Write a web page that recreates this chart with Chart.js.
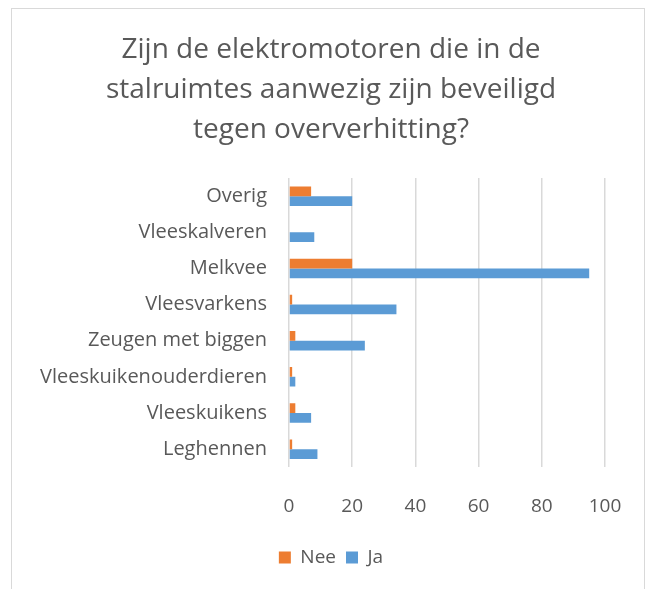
<!DOCTYPE html>
<html>
<head>
<meta charset="utf-8">
<script src="https://cdn.jsdelivr.net/npm/chart.js@4/dist/chart.umd.min.js"></script>
<style>
  html, body { margin: 0; padding: 0; background: #fff; }
  #kader { position: absolute; left: 11px; top: 8px; width: 632px; height: 600px; border: 1px solid #d9d9d9; }
  #wrap { position: absolute; left: 0; top: 0; width: 653px; height: 589px; }
</style>
</head>
<body>
<div id="kader"></div>
<div id="wrap"><canvas id="grafiek" width="653" height="589"></canvas></div>
<script>
// categorieen van boven naar onder
var categorieen = ["Overig", "Vleeskalveren", "Melkvee", "Vleesvarkens", "Zeugen met biggen", "Vleeskuikenouderdieren", "Vleeskuikens", "Leghennen"];
var nee = [7, 0, 20, 1, 2, 1, 2, 1];
var ja = [20, 8, 95, 34, 24, 2, 7, 9];
var titel = ["Zijn de elektromotoren die in de", "stalruimtes aanwezig zijn beveiligd", "tegen oververhitting?"];

var tekstKleur = "#595959";
var lettertype = "'Open Sans', Lato, sans-serif";

var ctx = document.getElementById("grafiek");
var grafiek = new Chart(ctx, {
    type: 'bar',
    data: {
        labels: categorieen,
        datasets: [
            { label: "Nee", data: nee, backgroundColor: "#ed7d31" },
            { label: "Ja", data: ja, backgroundColor: "#5b9bd5" }
        ]
    },
    options: {
        indexAxis: 'y',
        responsive: false,
        animation: false,
        devicePixelRatio: 1,
        categoryPercentage: 0.54,
        barPercentage: 1.0,
        layout: { padding: { left: 20, right: 11, top: 30, bottom: 12 } },
        scales: {
            x: {
                min: 0,
                max: 100,
                ticks: { stepSize: 20, color: tekstKleur, padding: 28, font: { family: lettertype, size: 19 } },
                grid: { color: "#d9d9d9", lineWidth: 1.5, drawTicks: false },
                border: { display: false },
                afterFit: function(scale) { scale.height = scale.height - 8; }
            },
            y: {
                ticks: { color: tekstKleur, padding: 22, font: { family: lettertype, size: 20 } },
                grid: { display: false, drawTicks: false },
                border: { display: false },
                afterFit: function(scale) { scale.width = 269; }
            },
            // lege as rechts, alleen voor ruimte
            rechts: {
                type: 'category',
                position: 'right',
                axis: 'y',
                ticks: { display: false },
                grid: { display: false, drawTicks: false },
                border: { display: false },
                afterFit: function(scale) { scale.width = 37; }
            }
        },
        plugins: {
            title: {
                display: true,
                text: titel,
                color: tekstKleur,
                font: { family: lettertype, size: 28, weight: 'normal', lineHeight: 1.43 },
                padding: { top: 0, bottom: 28 }
            },
            legend: {
                position: 'bottom',
                labels: { color: tekstKleur, boxWidth: 12, boxHeight: 12, padding: 10, font: { family: lettertype, size: 19 } }
            },
            tooltip: { enabled: false }
        }
    }
});
</script>
</body>
</html>
